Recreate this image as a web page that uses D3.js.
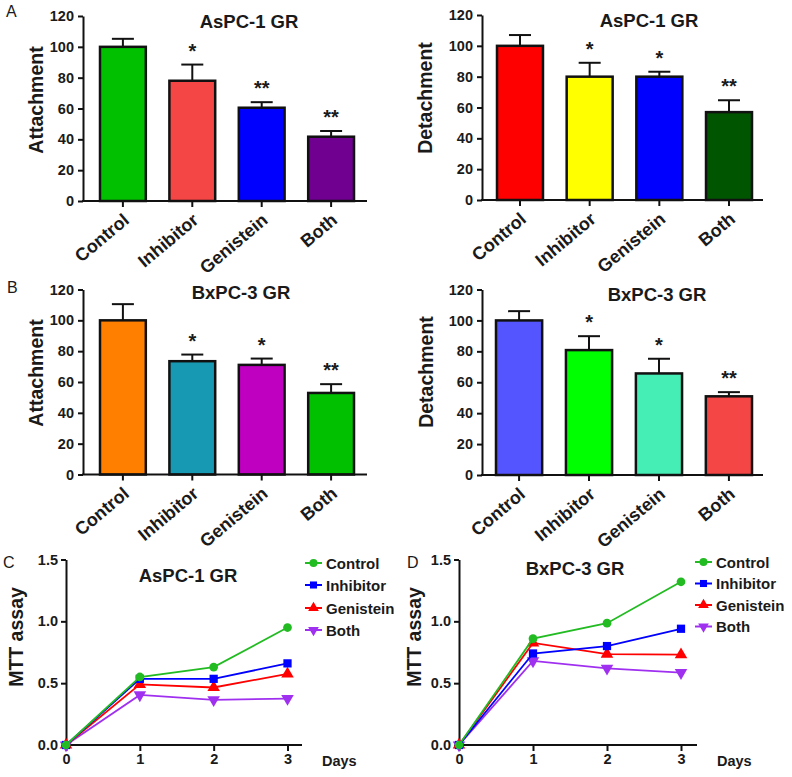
<!DOCTYPE html>
<html>
<head>
<meta charset="utf-8">
<script src="https://cdn.jsdelivr.net/npm/d3@7"></script>
<style>
  body { margin: 0; background: #fff; }
  svg text { font-family: "Liberation Sans", Arial, sans-serif; fill: #1a1a1a; }
</style>
</head>
<body>
<div class="svg-container"></div>
<script>
// categories / data
const categories = ['Control', 'Inhibitor', 'Genistein', 'Both'];
const yTicksBar = [0, 20, 40, 60, 80, 100, 120];

const attachA = [100, 78, 60.5, 41.7];
const attachAErr = [5.2, 10.5, 3.6, 3.7];
const attachAStars = ['', '*', '**', '**'];

const detachA = [100, 80, 80, 57];
const detachAErr = [7, 9, 3.2, 7.7];
const detachAStars = ['', '*', '*', '**'];

const attachB = [100, 73.5, 71.1, 52.9];
const attachBErr = [10.5, 4.3, 4.1, 5.7];
const attachBStars = ['', '*', '*', '**'];

const detachB = [100, 80.8, 65.7, 50.9];
const detachBErr = [6, 9, 9.5, 2.7];
const detachBStars = ['', '*', '*', '**'];

const days = [0, 1, 2, 3];
const yTicksLine = [0, 0.5, 1.0, 1.5];
const mttA = {
  Control:   [0, 0.55, 0.63, 0.95],
  Inhibitor: [0, 0.535, 0.535, 0.66],
  Genistein: [0, 0.49, 0.465, 0.575],
  Both:      [0, 0.405, 0.365, 0.375]
};
const mttB = {
  Control:   [0, 0.86, 0.985, 1.32],
  Inhibitor: [0, 0.74, 0.80, 0.94],
  Genistein: [0, 0.825, 0.735, 0.73],
  Both:      [0, 0.68, 0.62, 0.585]
};

const width = 792;
const height = 777;
const tickFont = 14.5;

const svg = d3.select('.svg-container')
  .append('svg')
  .attr('width', width)
  .attr('height', height);

function styleAxis(a) {
  a.select('.domain').attr('stroke', '#111').attr('stroke-width', 2);
  a.selectAll('.tick line').attr('stroke', '#111').attr('stroke-width', 2);
  a.selectAll('.tick text').attr('font-size', tickFont).attr('font-weight', 'bold')
    .style('font-family', '"Liberation Sans", Arial, sans-serif').attr('fill', '#1a1a1a');
}

// bar panel
function drawBars(p) {
  const g = svg.append('g');
  const yScale = d3.scaleLinear().domain([0, 120]).range([p.y0, p.y1]);
  const xScale = d3.scaleBand()
    .domain(categories)
    .range([p.bx0, p.bx1])
    .paddingInner(0.34)
    .paddingOuter(0);
  const mid = c => xScale(c) + xScale.bandwidth() / 2;

  const rows = categories.map((c, i) => ({ c, v: p.values[i], e: p.err[i], s: p.stars[i], col: p.colors[i] }));

  // error bars (drawn first, bars cover the lower part)
  g.selectAll('.err')
    .data(rows)
    .join('line')
    .attr('x1', d => mid(d.c))
    .attr('x2', d => mid(d.c))
    .attr('y1', d => yScale(d.v))
    .attr('y2', d => yScale(d.v + d.e))
    .attr('stroke', '#111')
    .attr('stroke-width', 2);
  g.selectAll('.cap')
    .data(rows)
    .join('line')
    .attr('x1', d => mid(d.c) - 11)
    .attr('x2', d => mid(d.c) + 11)
    .attr('y1', d => yScale(d.v + d.e))
    .attr('y2', d => yScale(d.v + d.e))
    .attr('stroke', '#111')
    .attr('stroke-width', 2);

  g.selectAll('.bar')
    .data(rows)
    .join('rect')
    .attr('x', d => xScale(d.c))
    .attr('y', d => yScale(d.v))
    .attr('width', xScale.bandwidth())
    .attr('height', d => yScale(0) - yScale(d.v))
    .attr('fill', d => d.col)
    .attr('stroke', '#111')
    .attr('stroke-width', 2.5);

  // significance stars
  g.selectAll('.star')
    .data(rows)
    .join('text')
    .attr('x', d => mid(d.c))
    .attr('y', d => yScale(d.v + d.e) - 18 + 11)
    .attr('text-anchor', 'middle')
    .attr('font-size', 20)
    .attr('font-weight', 'bold')
    .text(d => d.s);

  // y axis
  const yAxis = d3.axisLeft(yScale).tickValues(yTicksBar).tickSize(5).tickPadding(4).tickSizeOuter(0);
  g.append('g')
    .attr('transform', `translate(${p.ax},0)`)
    .call(yAxis)
    .call(styleAxis);

  // x axis line + ticks
  g.append('line')
    .attr('x1', p.ax - 1).attr('x2', p.axEnd)
    .attr('y1', yScale(0)).attr('y2', yScale(0))
    .attr('stroke', '#111').attr('stroke-width', 2);
  g.selectAll('.xt')
    .data(categories)
    .join('line')
    .attr('x1', d => mid(d))
    .attr('x2', d => mid(d))
    .attr('y1', yScale(0))
    .attr('y2', yScale(0) + 6)
    .attr('stroke', '#111').attr('stroke-width', 2);
  g.selectAll('.xl')
    .data(categories)
    .join('text')
    .attr('transform', d => `translate(${mid(d) - 1},${yScale(0) + 11}) rotate(-40)`)
    .attr('text-anchor', 'end')
    .attr('dy', '0.72em')
    .attr('font-size', 18)
    .attr('font-weight', 'bold')
    .text(d => d);

  // title, y label, panel letter
  g.append('text')
    .attr('x', p.tx).attr('y', p.ty)
    .attr('text-anchor', 'middle')
    .attr('font-size', 18.5).attr('font-weight', 'bold')
    .text(p.title);
  g.append('text')
    .attr('transform', `translate(${p.lx},${p.ly}) rotate(-90)`)
    .attr('text-anchor', 'middle')
    .attr('font-size', 19.5).attr('font-weight', 'bold')
    .text(p.ylabel);
  if (p.letter) {
    g.append('text')
      .attr('x', p.letter[1]).attr('y', p.letter[2])
      .attr('font-size', 16)
      .text(p.letter[0]);
  }
}

drawBars({
  values: attachA, err: attachAErr, stars: attachAStars,
  colors: ['#00c000', '#f54646', '#0000ff', '#700090'],
  y0: 201, y1: 16, bx0: 100, bx1: 354, ax: 83, axEnd: 367,
  title: 'AsPC-1 GR', tx: 249, ty: 28, ylabel: 'Attachment', lx: 43, ly: 100,
  letter: ['A', 6, 17]
});
drawBars({
  values: detachA, err: detachAErr, stars: detachAStars,
  colors: ['#ff0000', '#ffff00', '#0000ff', '#005500'],
  y0: 200, y1: 15, bx0: 497, bx1: 752, ax: 482, axEnd: 763,
  title: 'AsPC-1 GR', tx: 649, ty: 27, ylabel: 'Detachment', lx: 432, ly: 98
});
drawBars({
  values: attachB, err: attachBErr, stars: attachBStars,
  colors: ['#ff8000', '#1899b3', '#c000c0', '#00c000'],
  y0: 474.5, y1: 289.5, bx0: 100, bx1: 354, ax: 83, axEnd: 367,
  title: 'BxPC-3 GR', tx: 241, ty: 299, ylabel: 'Attachment', lx: 43, ly: 373,
  letter: ['B', 7, 293]
});
drawBars({
  values: detachB, err: detachBErr, stars: detachBStars,
  colors: ['#5555ff', '#00ff00', '#45eeb5', '#f54646'],
  y0: 475, y1: 289.5, bx0: 496, bx1: 752, ax: 482, axEnd: 763,
  title: 'BxPC-3 GR', tx: 657, ty: 301, ylabel: 'Detachment', lx: 433, ly: 372
});

// line panel
const seriesColors = { Control: '#22bb22', Inhibitor: '#0000ff', Genistein: '#ff0000', Both: '#a030f0' };
const seriesSymbols = {
  Control: d3.symbolCircle, Inhibitor: d3.symbolSquare,
  Genistein: d3.symbolTriangle, Both: d3.symbolTriangle
};
const seriesRotate = { Control: 0, Inhibitor: 0, Genistein: 0, Both: 180 };

function drawLines(p) {
  const g = svg.append('g');
  const xScale = d3.scaleLinear().domain([0, 3]).range([p.x0, p.x1]);
  const yScale = d3.scaleLinear().domain([0, 1.5]).range([745, 559.5]);

  // axes
  const yAxis = d3.axisLeft(yScale).tickValues(yTicksLine).tickFormat(d3.format('.1f'))
    .tickSize(5).tickPadding(3).tickSizeOuter(0);
  g.append('g')
    .attr('transform', `translate(${p.x0},0)`)
    .call(yAxis)
    .call(styleAxis);
  const xAxis = d3.axisBottom(xScale).tickValues(days).tickFormat(d3.format('d'))
    .tickSize(6).tickPadding(3).tickSizeOuter(0);
  g.append('g')
    .attr('transform', `translate(0,${yScale(0)})`)
    .call(xAxis)
    .call(styleAxis)
    .call(a => a.select('.domain').attr('d', `M${p.x0 - 1},0H${p.axEnd}`));

  const line = d3.line().x((d, i) => xScale(days[i])).y(d => yScale(d));
  const names = Object.keys(p.data);
  // draw Both first so Control sits on top
  names.slice().reverse().forEach(name => {
    g.append('path')
      .datum(p.data[name])
      .attr('d', line)
      .attr('fill', 'none')
      .attr('stroke', seriesColors[name])
      .attr('stroke-width', 1.8);
    g.selectAll(null)
      .data(p.data[name])
      .join('path')
      .attr('d', d3.symbol().type(seriesSymbols[name]).size(name === 'Control' ? 60 : 68))
      .attr('transform', (d, i) => `translate(${xScale(days[i])},${yScale(d)}) rotate(${seriesRotate[name]})`)
      .attr('fill', seriesColors[name]);
  });

  // legend
  names.forEach((name, i) => {
    const ly = p.legY[i];
    g.append('line')
      .attr('x1', p.legX).attr('x2', p.legX + 17)
      .attr('y1', ly).attr('y2', ly)
      .attr('stroke', seriesColors[name]).attr('stroke-width', 2);
    g.append('path')
      .attr('d', d3.symbol().type(seriesSymbols[name]).size(50))
      .attr('transform', `translate(${p.legX + 8.5},${ly}) rotate(${seriesRotate[name]})`)
      .attr('fill', seriesColors[name]);
    g.append('text')
      .attr('x', p.legX + 21).attr('y', ly + 5.5)
      .attr('font-size', 15).attr('font-weight', 'bold')
      .text(name);
  });

  g.append('text')
    .attr('x', p.tx).attr('y', p.ty)
    .attr('text-anchor', 'middle')
    .attr('font-size', 18.5).attr('font-weight', 'bold')
    .text(p.title);
  g.append('text')
    .attr('transform', `translate(${p.lx},637) rotate(-90)`)
    .attr('text-anchor', 'middle')
    .attr('font-size', 19.5).attr('font-weight', 'bold')
    .text('MTT assay');
  g.append('text')
    .attr('x', p.daysX).attr('y', 766)
    .attr('font-size', 14.5).attr('font-weight', 'bold')
    .text('Days');
  g.append('text')
    .attr('x', p.letter[1]).attr('y', 568)
    .attr('font-size', 16)
    .text(p.letter[0]);
}

drawLines({
  data: mttA, x0: 66, x1: 287.5, axEnd: 302,
  legX: 305, legY: [563, 585, 608, 630],
  title: 'AsPC-1 GR', tx: 188, ty: 582, lx: 23, daysX: 322,
  letter: ['C', 3]
});
drawLines({
  data: mttB, x0: 459, x1: 681, axEnd: 697,
  legX: 695, legY: [562, 583.5, 605, 626.5],
  title: 'BxPC-3 GR', tx: 575, ty: 575, lx: 421, daysX: 717,
  letter: ['D', 407]
});
</script>
</body>
</html>
